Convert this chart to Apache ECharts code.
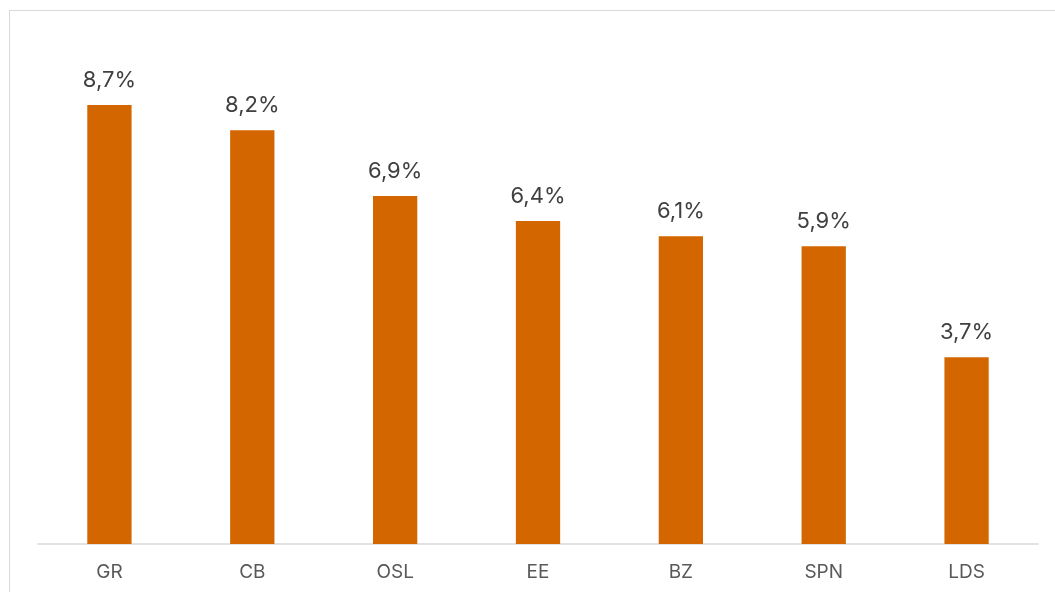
<!DOCTYPE html>
<html>
<head>
<meta charset="utf-8">
<script src="https://cdn.jsdelivr.net/npm/echarts@6/dist/echarts.min.js"></script>
<style>
  html, body { margin: 0; padding: 0; background: #fff; overflow: hidden; }
  .frame {
    position: absolute;
    left: 9px;
    top: 10px;
    width: 1100px;
    height: 640px;
    border: 1px solid #d9d9d9;
    box-sizing: border-box;
  }
  #chart { position: absolute; left: 0; top: 0; width: 1055px; height: 592px; }
</style>
</head>
<body>
<div class="frame"></div>
<div id="chart"></div>
<script>
const categories = ['GR', 'CB', 'OSL', 'EE', 'BZ', 'SPN', 'LDS']
const values = [8.7, 8.2, 6.9, 6.4, 6.1, 5.9, 3.7]

const chart = echarts.init(document.getElementById('chart'))
chart.setOption({
  animation: false,
  grid: { left: 38, right: 17, top: 39.5, bottom: 48 },
  xAxis: {
    type: 'category',
    data: categories,
    axisLine: { lineStyle: { color: '#d9d9d9', width: 1.5 } },
    axisTick: { show: false },
    axisLabel: { color: '#595959', fontSize: 19, fontFamily: 'Inter', margin: 19 },
  },
  yAxis: {
    type: 'value',
    min: 0,
    max: 10,
    show: false,
  },
  series: [{
    type: 'bar',
    data: values,
    barWidth: '31%',
    itemStyle: { color: '#d46600' },
    label: {
      show: true,
      position: 'top',
      distance: 14,
      color: '#404040',
      fontSize: 22,
      fontFamily: 'Inter',
      formatter: p => p.value.toFixed(1).replace('.', ',') + '%',
    },
  }],
})
</script>
</body>
</html>
